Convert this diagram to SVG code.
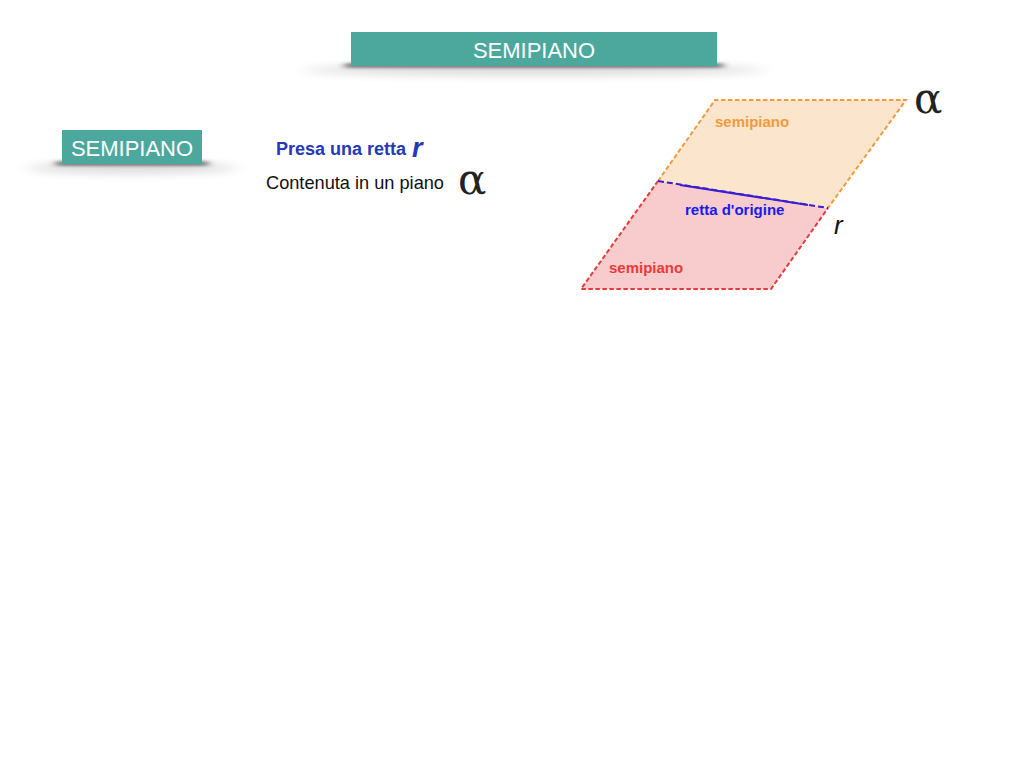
<svg xmlns="http://www.w3.org/2000/svg" width="1024" height="768" viewBox="0 0 1024 768">
<style>
text{font-family:"Liberation Sans",Arial,sans-serif}
.banner{fill:#4ca89c}
.bt{fill:#fff;font-size:22px;text-anchor:middle}
.alpha{font-family:"DejaVu Serif","Liberation Serif",serif;font-size:42px;fill:#222}
.lab{font-size:15px;font-weight:bold}
</style>
<defs>
<filter id="soft" x="-30%" y="-300%" width="160%" height="700%"><feGaussianBlur stdDeviation="10 4"/></filter>
<filter id="soft2" x="-10%" y="-200%" width="120%" height="500%"><feGaussianBlur stdDeviation="4 1.5"/></filter>
</defs>
<rect width="1024" height="768" fill="#fff"/>
<g id="title">
<ellipse cx="534" cy="70" rx="230" ry="6" fill="#000" opacity=".13" filter="url(#soft)"/>
<rect x="345" y="63" width="378" height="5" fill="#333" opacity=".6" filter="url(#soft2)"/>
<rect class="banner" x="351" y="32" width="366" height="34"/>
<text class="bt" x="534" y="58">SEMIPIANO</text>
</g>
<g id="heading">
<ellipse cx="132" cy="168" rx="105" ry="6" fill="#000" opacity=".13" filter="url(#soft)"/>
<rect x="56" y="161" width="152" height="5" fill="#333" opacity=".6" filter="url(#soft2)"/>
<rect class="banner" x="62" y="130" width="140" height="34"/>
<text class="bt" x="132" y="156">SEMIPIANO</text>
</g>
<g id="intro">
<text x="276" y="155" font-size="18" font-weight="bold" fill="#2438b8">Presa una retta <tspan font-size="27" font-style="italic" dy="2" dx="1">r</tspan></text>
<text x="266" y="189" font-size="18.2" fill="#111">Contenuta in un piano</text>
<text class="alpha" x="458" y="194">α</text>
</g>
<g id="half-orange">
<polygon points="715,100 906,100 828,208 658,181" fill="#fce5cd"/>
<path d="M658,181L715,100H906L828,208" fill="none" stroke="#f39a3c" stroke-width="2" stroke-dasharray="4.5 2.5"/>
<text class="lab" x="715" y="127" fill="#f39a3c">semipiano</text>
</g>
<g id="half-red">
<polygon points="658,181 828,208 771,289 581,289" fill="#f8cccc"/>
<path d="M658,181L581,289H771L828,208" fill="none" stroke="#e93a3a" stroke-width="2" stroke-dasharray="4.5 2.5"/>
<text class="lab" x="609" y="273" fill="#e93a3a">semipiano</text>
</g>
<g id="line-r">
<path d="M658,181L828,208" fill="none" stroke="#3a1fd0" stroke-width="2" stroke-dasharray="6 3"/>
<path d="M680,185L808,205" fill="none" stroke="#3a1fd0" stroke-width="2"/>
<text class="lab" x="685" y="215" font-size="15.2" fill="#1a1aee">retta d'origine</text>
<text x="834" y="234" font-size="26" font-style="italic" fill="#111">r</text>
</g>
<text class="alpha" x="914" y="113">α</text>
</svg>
